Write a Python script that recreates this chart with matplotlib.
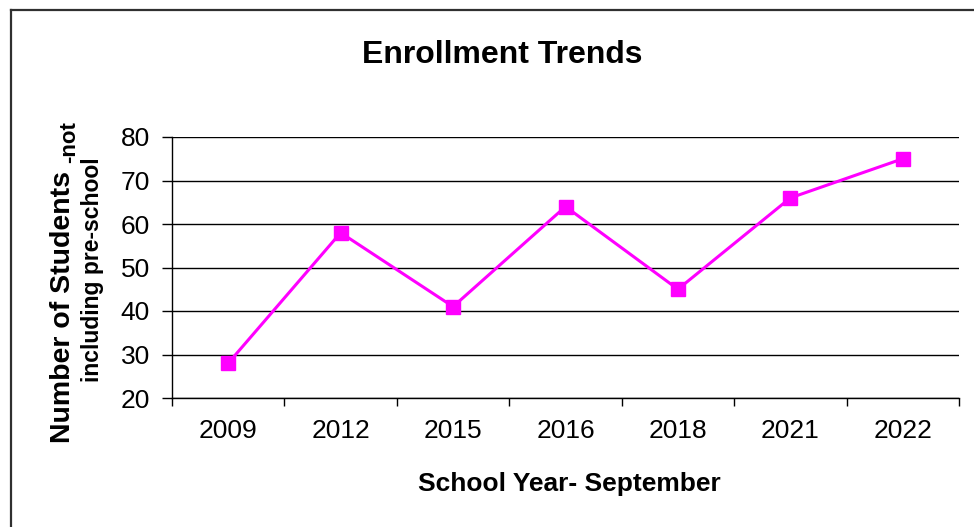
import matplotlib
matplotlib.use('Agg')
import matplotlib.pyplot as plt
from matplotlib.lines import Line2D

plt.rcParams['font.family'] = ['Liberation Sans', 'DejaVu Sans']

# data
years = ['2009', '2012', '2015', '2016', '2018', '2021', '2022']
students = [28, 58, 41, 64, 45, 66, 75]
y_ticks = [20, 30, 40, 50, 60, 70, 80]

W, H = 974, 527
fig = plt.figure(figsize=(W / 100, H / 100), dpi=100)

def px(x, y):
    # pixel coords (from top-left) -> figure fraction
    return x / W, 1 - y / H

# plot area
left, right, top, bottom = 172, 959, 137, 398
ax = fig.add_axes([left / W, 1 - bottom / H, (right - left) / W, (bottom - top) / H])

xs = list(range(len(years)))
ax.plot(xs, students, color='#FF00FF', lw=2.2, marker='s', ms=10,
        mec='#FF00FF', mfc='#FF00FF', clip_on=False, zorder=5)

ax.set_xlim(-0.5, len(years) - 0.5)
ax.set_ylim(20, 80)
ax.set_yticks(y_ticks)
ax.set_xticks(xs)
ax.set_xticklabels(years)
ax.set_xticks([i - 0.5 for i in range(len(years) + 1)], minor=True)

ax.tick_params(axis='x', which='major', length=0, pad=15, labelsize=19)
ax.tick_params(axis='x', which='minor', length=6, width=1, direction='out', color='black')
ax.tick_params(axis='y', length=7, width=1, direction='out', pad=9, labelsize=19, color='black')

ax.grid(axis='y', color='black', lw=1)
ax.set_axisbelow(True)
for s in ['top', 'right']:
    ax.spines[s].set_visible(False)
for s in ['left', 'bottom']:
    ax.spines[s].set_color('black')
    ax.spines[s].set_linewidth(1)

# title
fig.text(*px(502, 63), 'Enrollment Trends', fontsize=23, fontweight='bold',
         ha='center', va='baseline')

# x label
fig.text(*px(569, 491), 'School Year- September', fontsize=19, fontweight='bold',
         ha='center', va='baseline')

# y label (two sizes)
main = fig.text(*px(76, 443), 'Number of Students ', fontsize=20.5, fontweight='bold',
                rotation=90, ha='right', va='bottom')
fig.canvas.draw()
bb = main.get_window_extent()
fig.text(80 / W, bb.y1 / H, '-not', fontsize=16, fontweight='bold',
         rotation=90, ha='right', va='bottom')
fig.text(*px(92, 270), 'including pre-school', fontsize=16.5, fontweight='bold',
         rotation=90, ha='center', va='center')

# chart border (clipped at right/bottom like the source)
fig.add_artist(Line2D([11 / W, 11 / W], [0, 1 - 10 / H], color='#303030', lw=1.6,
                      transform=fig.transFigure))
fig.add_artist(Line2D([11 / W, 1], [1 - 10 / H, 1 - 10 / H], color='#303030', lw=1.6,
                      transform=fig.transFigure))

fig.savefig('out.png', dpi=100)
